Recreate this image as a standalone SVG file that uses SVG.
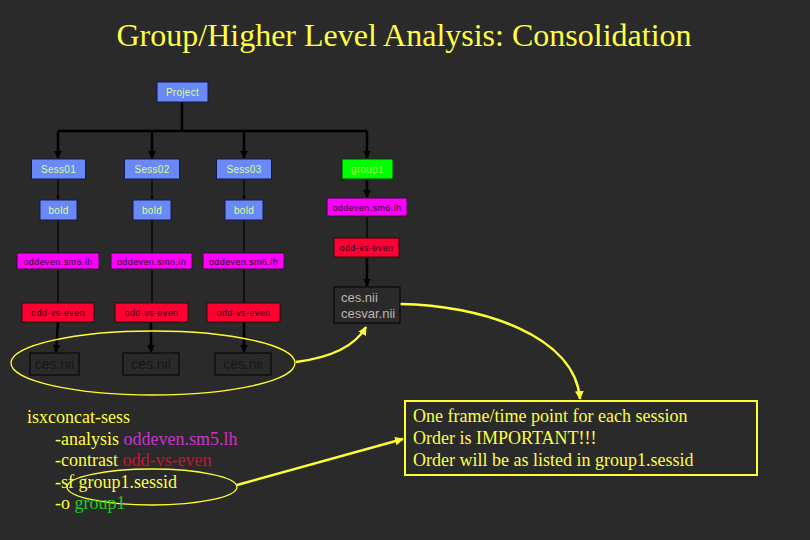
<svg xmlns="http://www.w3.org/2000/svg" width="810" height="540" viewBox="0 0 810 540">
<defs>
<style>
.bg{fill:#2a2a2a}
.title{font-family:"Liberation Serif",serif;font-size:32px;fill:#ffff44}
.blue{fill:#6a88f8;stroke:#101850;stroke-width:1}
.green{fill:#00ff00;stroke:#0a3a0a;stroke-width:1}
.mag{fill:#ff00ff;stroke:#301030;stroke-width:1}
.red{fill:#ff0033;stroke:#300808;stroke-width:1}
.dark{fill:#2a2a2a;stroke:#000;stroke-width:1}
.lt{font-family:"Liberation Sans",Arial,sans-serif;font-size:10px;fill:#d8ff90;text-anchor:middle;letter-spacing:0.3px}
.gt{font-family:"Liberation Sans",Arial,sans-serif;font-size:10px;fill:#a0ff40;text-anchor:middle;letter-spacing:0.3px}
.dt{font-family:"Liberation Sans",Arial,sans-serif;font-size:9px;fill:#2a0020;text-anchor:middle;letter-spacing:0.4px}
.ct{font-family:"Liberation Sans",Arial,sans-serif;font-size:14px;fill:#161616;text-anchor:middle}
.cv{font-family:"Liberation Sans",Arial,sans-serif;font-size:13px;fill:#b8b8b8}
.thick{stroke:#000;stroke-width:2.5;fill:none}
.thin{stroke:#000;stroke-width:1.2;fill:none}
.yl{stroke:#ffff33;fill:none}
.code{font-family:"Liberation Serif",serif;font-size:18px;fill:#ffff44}
.note{font-family:"Liberation Serif",serif;font-size:18px;fill:#ffff44}
</style>
<marker id="ah" viewBox="0 0 10 10" refX="9" refY="5" markerWidth="3.2" markerHeight="3.2" orient="auto"><path d="M0,0 L10,5 L0,10 z" fill="#000"/></marker>
<marker id="ay" viewBox="0 0 10 10" refX="9" refY="5" markerWidth="3.5" markerHeight="3.5" orient="auto"><path d="M0,0 L10,5 L0,10 z" fill="#ffff33"/></marker>
</defs>
<rect class="bg" x="0" y="0" width="810" height="540"/>
<text class="title" x="404" y="46" text-anchor="middle">Group/Higher Level Analysis: Consolidation</text>

<g id="connectors">
<path class="thick" d="M182,102 V131 M58,131 H367"/>
<path class="thick" d="M58,131 V158" marker-end="url(#ah)"/>
<path class="thick" d="M152,131 V158" marker-end="url(#ah)"/>
<path class="thick" d="M244,131 V158" marker-end="url(#ah)"/>
<path class="thick" d="M367,131 V158" marker-end="url(#ah)"/>
<path class="thin" d="M58,179 V199" marker-end="url(#ah)"/>
<path class="thin" d="M152,179 V199" marker-end="url(#ah)"/>
<path class="thin" d="M244,179 V199" marker-end="url(#ah)"/>
<path class="thick" d="M367,179 V197" marker-end="url(#ah)"/>
<path class="thin" d="M58,220 V253 M152,220 V253 M244,220 V253"/>
<path class="thin" d="M58,269 V303 M152,269 V303 M244,269 V303 M367,216 V238"/>
<path class="thick" d="M58,322 Q57,335 56,352" marker-end="url(#ah)"/>
<path class="thick" d="M151,322 V352" marker-end="url(#ah)"/>
<path class="thick" d="M244,322 V352" marker-end="url(#ah)"/>
<path class="thick" d="M367,257 V286" marker-end="url(#ah)"/>
<ellipse class="yl" cx="153" cy="363" rx="142" ry="32" stroke-width="1.3"/>
<ellipse class="yl" cx="152" cy="487" rx="85" ry="18" stroke-width="1.3"/>
<path class="yl" stroke-width="2.5" d="M296,362 Q350,355 366,327" marker-end="url(#ay)"/>
<path class="yl" stroke-width="2.5" d="M400,304 C480,305 575,335 580,399" marker-end="url(#ay)"/>
<path class="yl" stroke-width="2.5" d="M237,485 L403,439" marker-end="url(#ay)"/>
</g>

<g id="project"><rect class="blue" x="157" y="82" width="51" height="20"/><text class="lt" x="182.5" y="95.5">Project</text></g>
<g id="sess01"><rect class="blue" x="31.5" y="159" width="54" height="20"/><text class="lt" x="58.5" y="172.5">Sess01</text></g>
<g id="sess02"><rect class="blue" x="124.5" y="159" width="55" height="20"/><text class="lt" x="152" y="172.5">Sess02</text></g>
<g id="sess03"><rect class="blue" x="216.5" y="159" width="55" height="20"/><text class="lt" x="244" y="172.5">Sess03</text></g>
<g id="group1"><rect class="green" x="342" y="159" width="51" height="20"/><text class="gt" x="367.5" y="172.5">group1</text></g>

<g id="bold1"><rect class="blue" x="40" y="200" width="37" height="20"/><text class="lt" x="58.5" y="213.5">bold</text></g>
<g id="bold2"><rect class="blue" x="133" y="200" width="38" height="20"/><text class="lt" x="152" y="213.5">bold</text></g>
<g id="bold3"><rect class="blue" x="225" y="200" width="38" height="20"/><text class="lt" x="244" y="213.5">bold</text></g>
<g id="g1oddeven"><rect class="mag" x="327" y="198" width="80" height="18"/><text class="dt" x="367" y="210.5">oddeven.sm6.lh</text></g>
<g id="g1contrast"><rect class="red" x="334" y="238" width="65" height="19"/><text class="dt" x="366.5" y="250.5">odd-vs-even</text></g>
<g id="g1ces"><rect class="dark" x="334" y="287" width="66" height="36"/><text class="cv" x="341" y="302">ces.nii</text><text class="cv" x="341" y="318">cesvar.nii</text></g>

<g id="oddeven1"><rect class="mag" x="17" y="253" width="82" height="16"/><text class="dt" x="58" y="264.5">oddeven.sm6.lh</text></g>
<g id="oddeven2"><rect class="mag" x="111" y="253" width="81" height="16"/><text class="dt" x="151.5" y="264.5">oddeven.sm6.lh</text></g>
<g id="oddeven3"><rect class="mag" x="203" y="253" width="81" height="16"/><text class="dt" x="243.5" y="264.5">oddeven.sm6.lh</text></g>

<g id="contrast1"><rect class="red" x="22" y="303" width="72" height="19"/><text class="dt" x="58" y="315.5">odd-vs-even</text></g>
<g id="contrast2"><rect class="red" x="115" y="303" width="73" height="19"/><text class="dt" x="151.5" y="315.5">odd-vs-even</text></g>
<g id="contrast3"><rect class="red" x="207" y="303" width="73" height="19"/><text class="dt" x="243.5" y="315.5">odd-vs-even</text></g>

<g id="ces1"><rect class="dark" x="30" y="353" width="49" height="22"/><text class="ct" x="54.5" y="369">ces.nii</text></g>
<g id="ces2"><rect class="dark" x="123" y="353" width="56" height="22"/><text class="ct" x="151" y="369">ces.nii</text></g>
<g id="ces3"><rect class="dark" x="215" y="353" width="56" height="22"/><text class="ct" x="243" y="369">ces.nii</text></g>

<g id="command">
<text class="code" x="27" y="423">isxconcat-sess</text>
<text class="code" x="55" y="445">-analysis <tspan fill="#cc33cc">oddeven.sm5.lh</tspan></text>
<text class="code" x="55" y="466">-contrast <tspan fill="#cc1133">odd-vs-even</tspan></text>
<text class="code" x="55" y="488">-sf group1.sessid</text>
<text class="code" x="55" y="509">-o <tspan fill="#22cc22">group1</tspan></text>
</g>

<g id="note">
<rect x="405" y="401" width="352" height="74" fill="none" stroke="#ffff33" stroke-width="2"/>
<text class="note" x="413" y="422">One frame/time point for each session</text>
<text class="note" x="413" y="444">Order is IMPORTANT!!!</text>
<text class="note" x="413" y="466">Order will be as listed in group1.sessid</text>
</g>
</svg>
